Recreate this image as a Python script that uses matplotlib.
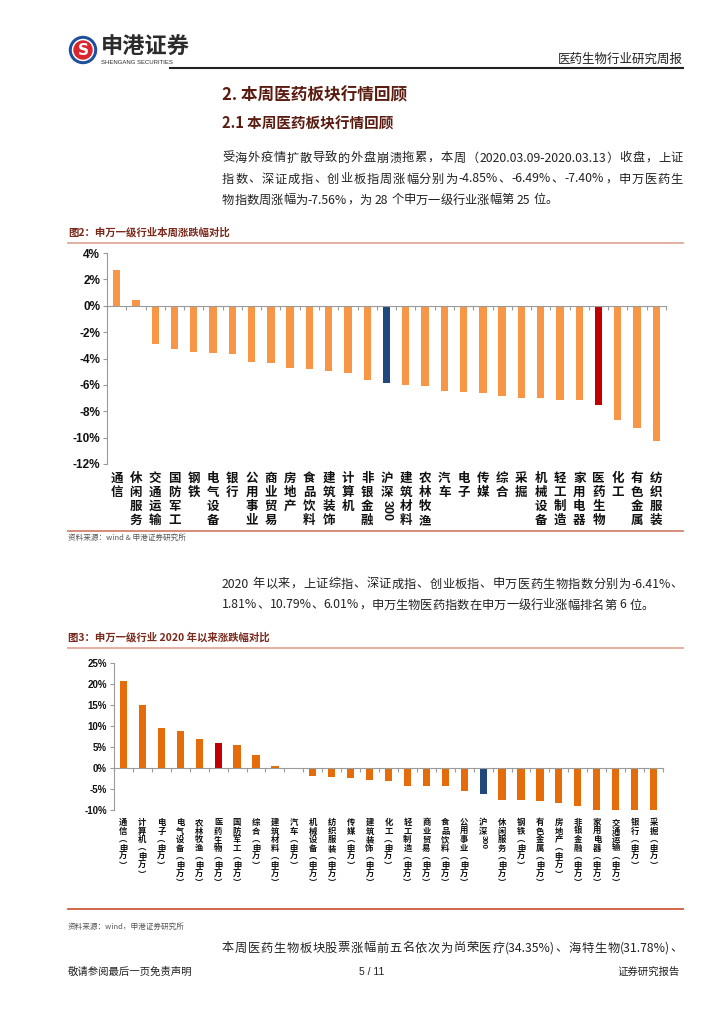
import re
import numpy as np
import matplotlib
matplotlib.use('Agg')
import matplotlib.pyplot as plt
import matplotlib.transforms as mtransforms
from matplotlib.patches import Circle

plt.rcParams['font.family'] = ['Noto Sans CJK SC', 'DejaVu Sans']

# 图2：申万一级行业本周涨跌幅对比 (%)
cats1 = ['通信', '休闲服务', '交通运输', '国防军工', '钢铁', '电气设备', '银行', '公用事业',
         '商业贸易', '房地产', '食品饮料', '建筑装饰', '计算机', '非银金融', '沪深300',
         '建筑材料', '农林牧渔', '汽车', '电子', '传媒', '综合', '采掘', '机械设备',
         '轻工制造', '家用电器', '医药生物', '化工', '有色金属', '纺织服装']
vals1 = [2.68, 0.40, -2.88, -3.28, -3.51, -3.56, -3.69, -4.29, -4.34, -4.72, -4.80,
         -4.95, -5.08, -5.61, -5.83, -5.98, -6.11, -6.44, -6.52, -6.64, -6.82, -7.00,
         -7.02, -7.12, -7.12, -7.56, -8.66, -9.27, -10.25]
yticks1 = [4, 2, 0, -2, -4, -6, -8, -10, -12]

# 图3：申万一级行业 2020 年以来涨跌幅对比 (%)
cats2 = ['通信(申万)', '计算机(申万)', '电子(申万)', '电气设备(申万)', '农林牧渔(申万)',
         '医药生物(申万)', '国防军工(申万)', '综合(申万)', '建筑材料(申万)', '汽车(申万)',
         '机械设备(申万)', '纺织服装(申万)', '传媒(申万)', '建筑装饰(申万)', '化工(申万)',
         '轻工制造(申万)', '商业贸易(申万)', '食品饮料(申万)', '公用事业(申万)', '沪深300',
         '休闲服务(申万)', '钢铁(申万)', '有色金属(申万)', '房地产(申万)', '非银金融(申万)',
         '家用电器(申万)', '交通运输(申万)', '银行(申万)', '采掘(申万)']
vals2 = [20.6, 14.9, 9.5, 8.9, 6.8, 6.01, 5.4, 3.2, 0.5, -0.2, -1.9, -2.1, -2.4, -2.9,
         -3.1, -4.2, -4.3, -4.4, -5.5, -6.1, -7.5, -7.7, -7.9, -8.4, -9.0, -10.3, -10.6,
         -11.2, -12.0]
yticks2 = [25, 20, 15, 10, 5, 0, -5, -10]

W, H = 724, 1024
fig = plt.figure(figsize=(W / 100, H / 100), dpi=100)
renderer = fig.canvas.get_renderer()


def box(x0, y0, x1, y1):
    return [x0 / W, 1 - y1 / H, (x1 - x0) / W, (y1 - y0) / H]


# page layer in pixel coordinates
pg = fig.add_axes([0, 0, 1, 1])
pg.set_xlim(0, W)
pg.set_ylim(H, 0)
pg.axis('off')

maroon = '#5a1c10'
txt = '#222222'


def put_line(x0, x1, y, line, fs=9, justify=True):
    # draw a text line token by token, spread to fill x0..x1 like the report does
    tokens = re.findall(r'[!-~]+| |[^ ]', line)
    items = []
    for t in tokens:
        if t == ' ':
            items.append((None, fs * 0.35))
            continue
        tx = pg.text(0, y, t, fontsize=fs, color=txt, va='center')
        w = tx.get_window_extent(renderer).width
        items.append((tx, w))
    total = sum(w for _, w in items)
    gaps = len([1 for t, _ in items if t is not None]) - 1
    extra = (x1 - x0 - total) / gaps if (justify and gaps > 0) else 0
    x = x0
    for tx, w in items:
        if tx is None:
            x += w
            continue
        tx.set_x(x)
        x += w + extra


# logo
pg.add_patch(Circle((83, 50), 13.5, color='#1d4f9c'))
pg.add_patch(Circle((83, 50), 10.5, color='white'))
pg.add_patch(Circle((83, 50), 9, color='#d9262e'))
pg.text(83, 50.5, 'S', color='white', fontsize=11, fontweight='bold', ha='center',
        va='center', family='DejaVu Sans')
pg.text(101, 47, '申港证券', fontsize=16, fontweight='bold', color='#2b2b2b', va='center')
pg.text(101, 62, 'SHENGANG SECURITIES', fontsize=4.3, color='#2b2b2b', va='center',
        family='Liberation Sans')
pg.text(683, 59, '医药生物行业研究周报', fontsize=9, color=txt, ha='right', va='center')
pg.plot([170, 683], [68, 68], color='#222222', lw=1.5)

# headings and text
pg.text(222, 95, '2. 本周医药板块行情回顾', fontsize=12, fontweight='bold', color=maroon,
        va='center')
pg.text(222, 123, '2.1 本周医药板块行情回顾', fontsize=10.5, fontweight='bold', color=maroon,
        va='center')
para1 = ['受海外疫情扩散导致的外盘崩溃拖累，本周（2020.03.09-2020.03.13）收盘，上证',
         '指数、深证成指、创业板指周涨幅分别为-4.85%、-6.49%、-7.40%，申万医药生',
         '物指数周涨幅为-7.56%，为 28 个申万一级行业涨幅第 25 位。']
for k, line in enumerate(para1):
    put_line(222, 683, 158 + k * 21, line, fs=8.8, justify=k < len(para1) - 1)

para2 = ['2020 年以来，上证综指、深证成指、创业板指、申万医药生物指数分别为-6.41%、',
         '1.81%、10.79%、6.01%，申万生物医药指数在申万一级行业涨幅排名第 6 位。']
for k, line in enumerate(para2):
    put_line(222, 683, 584 + k * 21, line, fs=8.8, justify=k < len(para2) - 1)

put_line(222, 683, 948, '本周医药生物板块股票涨幅前五名依次为尚荣医疗(34.35%)、海特生物(31.78%)、',
         fs=8.8)

# figure captions and rules
pg.text(68, 232, '图2：申万一级行业本周涨跌幅对比', fontsize=7.5, fontweight='bold',
        color='#7a2a1c', va='center')
pg.plot([68, 683], [243, 243], color='#e2aa9c', lw=1.3)
pg.plot([68, 683], [531, 531], color='#d4826e', lw=1.3)
pg.text(68, 538, '资料来源：wind & 申港证券研究所', fontsize=5.5, color='#555555', va='center')

pg.text(68, 637, '图3：申万一级行业 2020 年以来涨跌幅对比', fontsize=7.5, fontweight='bold',
        color='#7a2a1c', va='center')
pg.plot([68, 683], [648, 648], color='#e2aa9c', lw=1.3)
pg.plot([68, 683], [909, 909], color='#cc5a3c', lw=1.3)
pg.text(68, 927, '资料来源：wind，申港证券研究所', fontsize=5.5, color='#555555', va='center')

# footer
pg.text(68, 972, '敬请参阅最后一页免责声明', fontsize=7.5, color=txt, va='center')
pg.text(372, 972, '5 / 11', fontsize=7.5, color=txt, va='center', ha='center',
        family='Liberation Sans')
pg.text(680, 972, '证券研究报告', fontsize=7.5, color=txt, va='center', ha='right')


def vlabel(ax, x, label, top, row, fs, weight='normal'):
    base = ax.get_xaxis_transform()
    if label == '沪深300':
        chars = ['沪', '深']
    else:
        chars = list(label.replace('(', '︵').replace(')', '︶'))
    for k, ch in enumerate(chars):
        tr = mtransforms.offset_copy(base, fig=fig, x=0, y=-(top + k * row), units='dots')
        ax.text(x, 0, ch, transform=tr, ha='center', va='top', fontsize=fs,
                fontweight=weight, color='#111111')
    if label == '沪深300':
        tr = mtransforms.offset_copy(base, fig=fig, x=0, y=-(top + 2 * row), units='dots')
        ax.text(x, 0, '300', transform=tr, ha='center', va='top', fontsize=fs,
                rotation=270, fontweight=weight, color='#111111', family='Liberation Sans')


def bar_chart(rect, cats, vals, yticks, orange, top, row, fs, tick_fs, tick_w):
    ax = fig.add_axes(rect)
    x = np.arange(len(cats))
    colors = []
    for c in cats:
        if c == '沪深300':
            colors.append('#1f497d')
        elif c.startswith('医药生物'):
            colors.append('#c00000')
        else:
            colors.append(orange)
    ax.bar(x, vals, width=0.38, color=colors, zorder=2)
    ax.set_xlim(-0.5, len(cats) - 0.5)
    ax.set_ylim(min(yticks), max(yticks))
    ax.set_yticks(yticks)
    ax.set_yticklabels([f'{v}%' for v in yticks], fontsize=tick_fs, fontweight=tick_w,
                       family='Liberation Sans', color='#111111')
    ax.set_xticks(np.arange(-0.5, len(cats), 1))
    ax.set_xticklabels([])
    for s in ['top', 'right']:
        ax.spines[s].set_visible(False)
    ax.spines['bottom'].set_position(('data', 0))
    ax.spines['bottom'].set_color('#9a9a9a')
    ax.spines['left'].set_color('#9a9a9a')
    ax.tick_params(axis='both', direction='out', length=3, color='#9a9a9a', width=0.8)
    ax.tick_params(axis='y', pad=2)
    ax.patch.set_alpha(0)
    for i, c in enumerate(cats):
        vlabel(ax, i, c, top, row, fs, weight='bold')
    return ax


bar_chart(box(107, 253, 666, 464), cats1, vals1, yticks1, '#f79646',
          top=8, row=14, fs=9, tick_fs=8.5, tick_w='bold')
bar_chart(box(114, 663, 663, 810), cats2, vals2, yticks2, '#e46c0a',
          top=8, row=8.6, fs=6, tick_fs=7, tick_w='bold')

fig.savefig('out.png', dpi=100)
